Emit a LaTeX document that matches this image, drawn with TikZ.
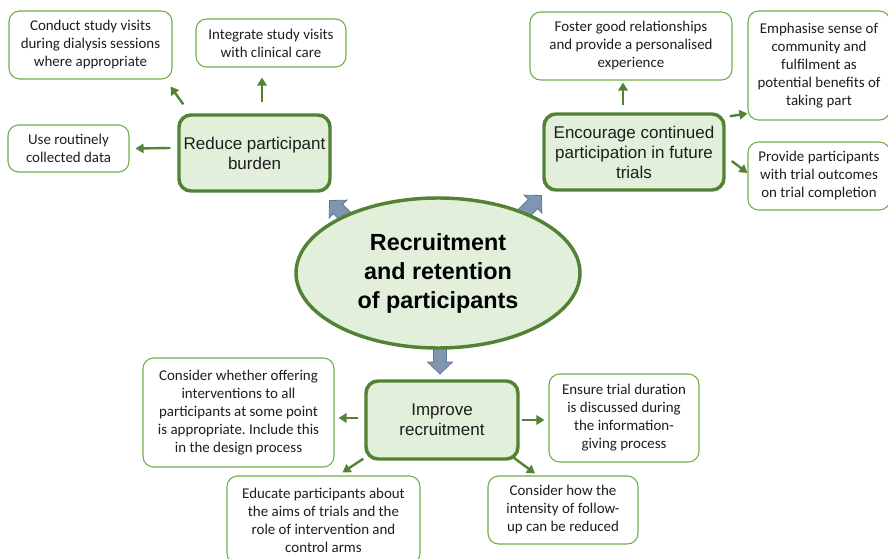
\documentclass[tikz,border=0pt]{standalone}
\usepackage{fontspec}
\setmainfont{Carlito}
\newfontfamily\arialf{Liberation Sans}
\usetikzlibrary{arrows.meta,shapes.geometric}
\definecolor{dgreen}{RGB}{84,130,53}
\definecolor{lgreen}{RGB}{112,173,71}
\definecolor{pfill}{RGB}{226,239,218}
\definecolor{txt}{RGB}{30,30,30}
\definecolor{barrowfill}{RGB}{128,150,176}
\definecolor{barrowline}{RGB}{96,120,150}
\frenchspacing
\tikzset{
  smallbox/.style={draw=lgreen, line width=0.8pt, rounded corners=8pt, fill=white, text=txt,
    align=center, inner sep=0pt, font=\fontsize{11.2}{13.5}\selectfont},
  mainbox/.style={draw=dgreen, line width=2.6pt, rounded corners=9pt, fill=pfill, text=txt,
    align=center, inner sep=0pt, font=\arialf\fontsize{12.75}{15}\selectfont},
  garrow/.style={draw=dgreen, line width=1.8pt, -{Triangle[length=6pt,width=7pt]}},
  blockarrow/.pic={\draw[fill=barrowfill, draw=barrowline, line width=0.6pt]
    (0,-6.5) -- (17,-6.5) -- (17,-12.5) -- (29,0) -- (17,12.5) -- (17,6.5) -- (0,6.5) -- cycle;}
}
\begin{document}
\begin{tikzpicture}[x=0.75pt,y=-0.75pt]
\useasboundingbox (0,0) rectangle (888,559);
% block arrows (behind ellipse)
\pic[rotate=135] at (350,221) {blockarrow};
\pic[rotate=45] at (521,216) {blockarrow};
\pic[rotate=-90] at (440,345) {blockarrow};
% central ellipse
\node[ellipse, draw=dgreen, line width=2.6pt, fill=pfill, minimum width=213pt, minimum height=112.5pt,
  align=center, inner sep=0pt, text=black, font=\arialf\bfseries\fontsize{17.5}{21.75}\selectfont] (core) at (438,273)
  {Recruitment\\and retention\\of participants};
% main boxes
\node[mainbox, minimum width=113.25pt, minimum height=57pt] (rb) at (254.5,153) {Reduce participant\\burden};
\node[mainbox, minimum width=135pt, minimum height=57pt] (ec) at (634,152) {Encourage continued\\participation in future\\trials};
\node[mainbox, minimum width=114pt, minimum height=58.5pt] (ir) at (442,420) {Improve\\recruitment};
% small boxes
\node[smallbox, minimum width=122.25pt, minimum height=51pt] (cs) at (90.5,45) {Conduct study visits\\during dialysis sessions\\where appropriate};
\node[smallbox, minimum width=112.5pt, minimum height=36pt] (is) at (271,43) {Integrate study visits\\with clinical care};
\node[smallbox, minimum width=90.75pt, minimum height=35.25pt] (ur) at (68.5,148.5) {Use routinely\\collected data};
\node[smallbox, minimum width=151.5pt, minimum height=51pt] (fg) at (631,46) {Foster good relationships\\and provide a personalised\\experience};
\node[smallbox, minimum width=106.5pt, minimum height=81.75pt] (es) at (819,65.5) {Emphasise sense of\\community and\\fulfilment as\\potential benefits of\\taking part};
\node[smallbox, minimum width=106.5pt, minimum height=51pt] (pp) at (819,176) {Provide participants\\with trial outcomes\\on trial completion};
\node[smallbox, minimum width=143.25pt, minimum height=81.75pt] (cw) at (238.5,412.5) {Consider whether offering\\interventions to all\\participants at some point\\is appropriate. Include this\\in the design process};
\node[smallbox, minimum width=112.5pt, minimum height=66pt] (et) at (624,418) {Ensure trial duration\\is discussed during\\the information-\\giving process};
\node[smallbox, minimum width=144.75pt, minimum height=66pt] (ep) at (323.5,520) {Educate participants about\\the aims of trials and the\\role of intervention and\\control arms};
\node[smallbox, minimum width=112.5pt, minimum height=51pt] (ch) at (563,510) {Consider how the\\intensity of follow-\\up can be reduced};
% green connectors
\draw[garrow] ([shift={(6,-9)}]rb.north west) -- ([shift={(-2,7)}]cs.south east);
\draw[garrow] ([shift={(7.5,-11)}]rb.north) -- ([shift={(-9,10)}]is.south);
\draw[garrow] ([shift={(-7,-5)}]rb.west) -- ([shift={(6,0)}]ur.east);
\draw[garrow] ([shift={(-11,-7)}]ec.north) -- ([shift={(-8,2)}]fg.south);
\draw[garrow] ([shift={(4,4)}]ec.north east) -- ([shift={(0,-7)}]es.south west);
\draw[garrow] ([shift={(6,9)}]ec.east) -- ([shift={(0,-3)}]pp.west);
\draw[garrow] ([shift={(-6,-2)}]ir.west) -- ([shift={(4,5.5)}]cw.east);
\draw[garrow] ([shift={(2,0)}]ir.east) -- ([shift={(-4,2)}]et.west);
\draw[garrow] ([shift={(-1,-2)}]ir.south west) -- ([shift={(19,-3)}]ep.north);
\draw[garrow] ([shift={(-6,-3)}]ir.south east) -- ([shift={(-28,-2)}]ch.north);
\end{tikzpicture}
\end{document}
